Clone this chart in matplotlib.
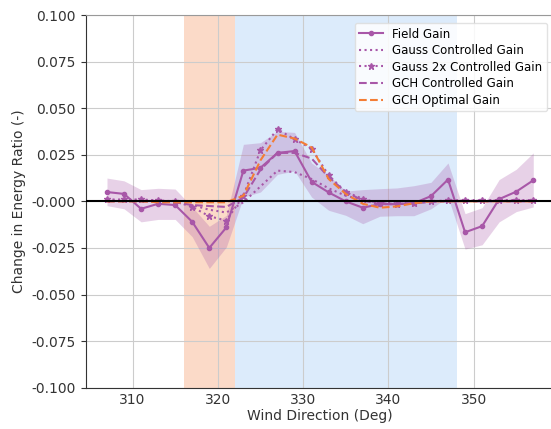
import matplotlib.pyplot as plt
import numpy as np

wd = np.arange(307, 358, 2)

field_gain = [0.005, 0.004, -0.004, -0.0013, -0.002, -0.011, -0.025, -0.014, 0.0165, 0.018,
              0.026, 0.027, 0.0105, 0.0048, 0.0, -0.0034, -0.0015, -0.0015, -0.001, 0.0028,
              0.0117, -0.0166, -0.0133, 0.0012, 0.0052, 0.0113]
field_hi = [0.0125, 0.011, 0.0063, 0.007, 0.0066, -0.003, -0.0134, -0.0075, 0.0306, 0.0315,
            0.0376, 0.037, 0.0206, 0.014, 0.0055, 0.0063, 0.0068, 0.0072, 0.0084, 0.0102,
            0.0206, -0.0066, -0.0034, 0.0117, 0.0172, 0.026]
field_lo = [-0.0023, -0.004, -0.011, -0.0097, -0.0097, -0.019, -0.036, -0.0245, 0.0023, 0.005,
            0.0145, 0.0163, 0.0023, -0.0048, -0.0075, -0.012, -0.008, -0.0077, -0.0077, -0.004,
            0.0023, -0.0256, -0.0233, -0.011, -0.0055, -0.003]
gauss_gain = [0.0005, 0.0005, 0.0005, 0.0005, -0.0005, -0.002, -0.0045, -0.006, -0.0005, 0.008,
              0.0165, 0.0157, 0.012, 0.007, 0.003, 0.0008, -0.0008, -0.001, -0.0005, 0.0,
              0.0003, 0.0003, 0.0003, 0.0003, 0.0003, 0.0003]
gauss2x_gain = [0.001, 0.001, 0.001, 0.0005, 0.0, -0.003, -0.008, -0.0103, 0.003, 0.0274,
                0.0387, 0.0333, 0.0283, 0.014, 0.005, 0.0014, -0.001, -0.0015, -0.001, 0.0,
                0.0005, 0.0007, 0.0007, 0.0007, 0.0007, 0.0007]
gch_gain = [0.0, 0.0, 0.0, 0.0, -0.0005, -0.002, -0.0025, -0.003, 0.002, 0.017,
            0.026, 0.026, 0.023, 0.013, 0.005, 0.0005, -0.0015, -0.0015, -0.001, -0.0003,
            0.0, 0.0, 0.0, 0.0, 0.0, 0.0]
gch_opt_gain = [0.0, 0.0, 0.0, -0.0005, -0.0005, -0.0005, -0.0005, -0.0005, 0.003, 0.022,
                0.0358, 0.0337, 0.029, 0.012, 0.004, -0.0013, -0.0034, -0.0027, -0.001, 0.0,
                0.0, 0.0, 0.0, 0.0, 0.0, 0.0]

purple = '#a857a8'
orange = '#f47d35'

plt.rcParams['font.family'] = 'DejaVu Sans'
fig = plt.figure(figsize=(5.51, 4.29), dpi=100)
ax = fig.add_axes([0.1555, 0.0963, 0.851, 0.8687])

ax.axvspan(316, 322, color='#fbdac8', zorder=0, lw=0)
ax.axvspan(322, 348, color='#dcebfb', zorder=0, lw=0)

ax.fill_between(wd, field_lo, field_hi, color=purple, alpha=0.27, lw=0, zorder=2)
ax.plot(wd, field_gain, '-o', color=purple, ms=3, lw=1.5, label='Field Gain', zorder=4)
ax.plot(wd, gauss_gain, ':', color=purple, lw=1.5, label='Gauss Controlled Gain', zorder=4)
ax.plot(wd, gauss2x_gain, ':*', color=purple, ms=4.5, lw=1.5, label='Gauss 2x Controlled Gain', zorder=4)
ax.plot(wd, gch_gain, '--', color=purple, lw=1.5, label='GCH Controlled Gain', zorder=4)
ax.plot(wd, gch_opt_gain, '--', color=orange, lw=1.5, label='GCH Optimal Gain', zorder=4)
ax.axhline(0, color='k', lw=1.5, zorder=5)

ax.set_xlim(304.5, 359.5)
ax.set_ylim(-0.1, 0.1)
ax.set_xticks([310, 320, 330, 340, 350])
ax.set_yticks(np.arange(-0.1, 0.101, 0.025))
ax.yaxis.set_major_formatter(plt.FormatStrFormatter('%.3f'))
ax.grid(True, color='#cccccc', lw=0.8, zorder=1)
ax.set_axisbelow(True)
ax.tick_params(axis='x', length=0, labelsize=10, colors='#333333', pad=4)
ax.tick_params(axis='y', length=3.5, labelsize=10, colors='#333333', width=0.8)
for s in ['left', 'bottom']:
    ax.spines[s].set_color('#333333')
ax.spines['top'].set_color('#999999')
ax.spines['right'].set_visible(False)
ax.set_xlabel('Wind Direction (Deg)', fontsize=10, color='#333333', labelpad=1)
ax.set_ylabel('Change in Energy Ratio (-)', fontsize=10, color='#333333')
ax.legend(loc='upper right', fontsize=8.5, framealpha=0.85, edgecolor='#dddddd',
          bbox_to_anchor=(0.997, 0.995), handlelength=2.0, labelspacing=0.3)

fig.savefig('out.png', dpi=100)
